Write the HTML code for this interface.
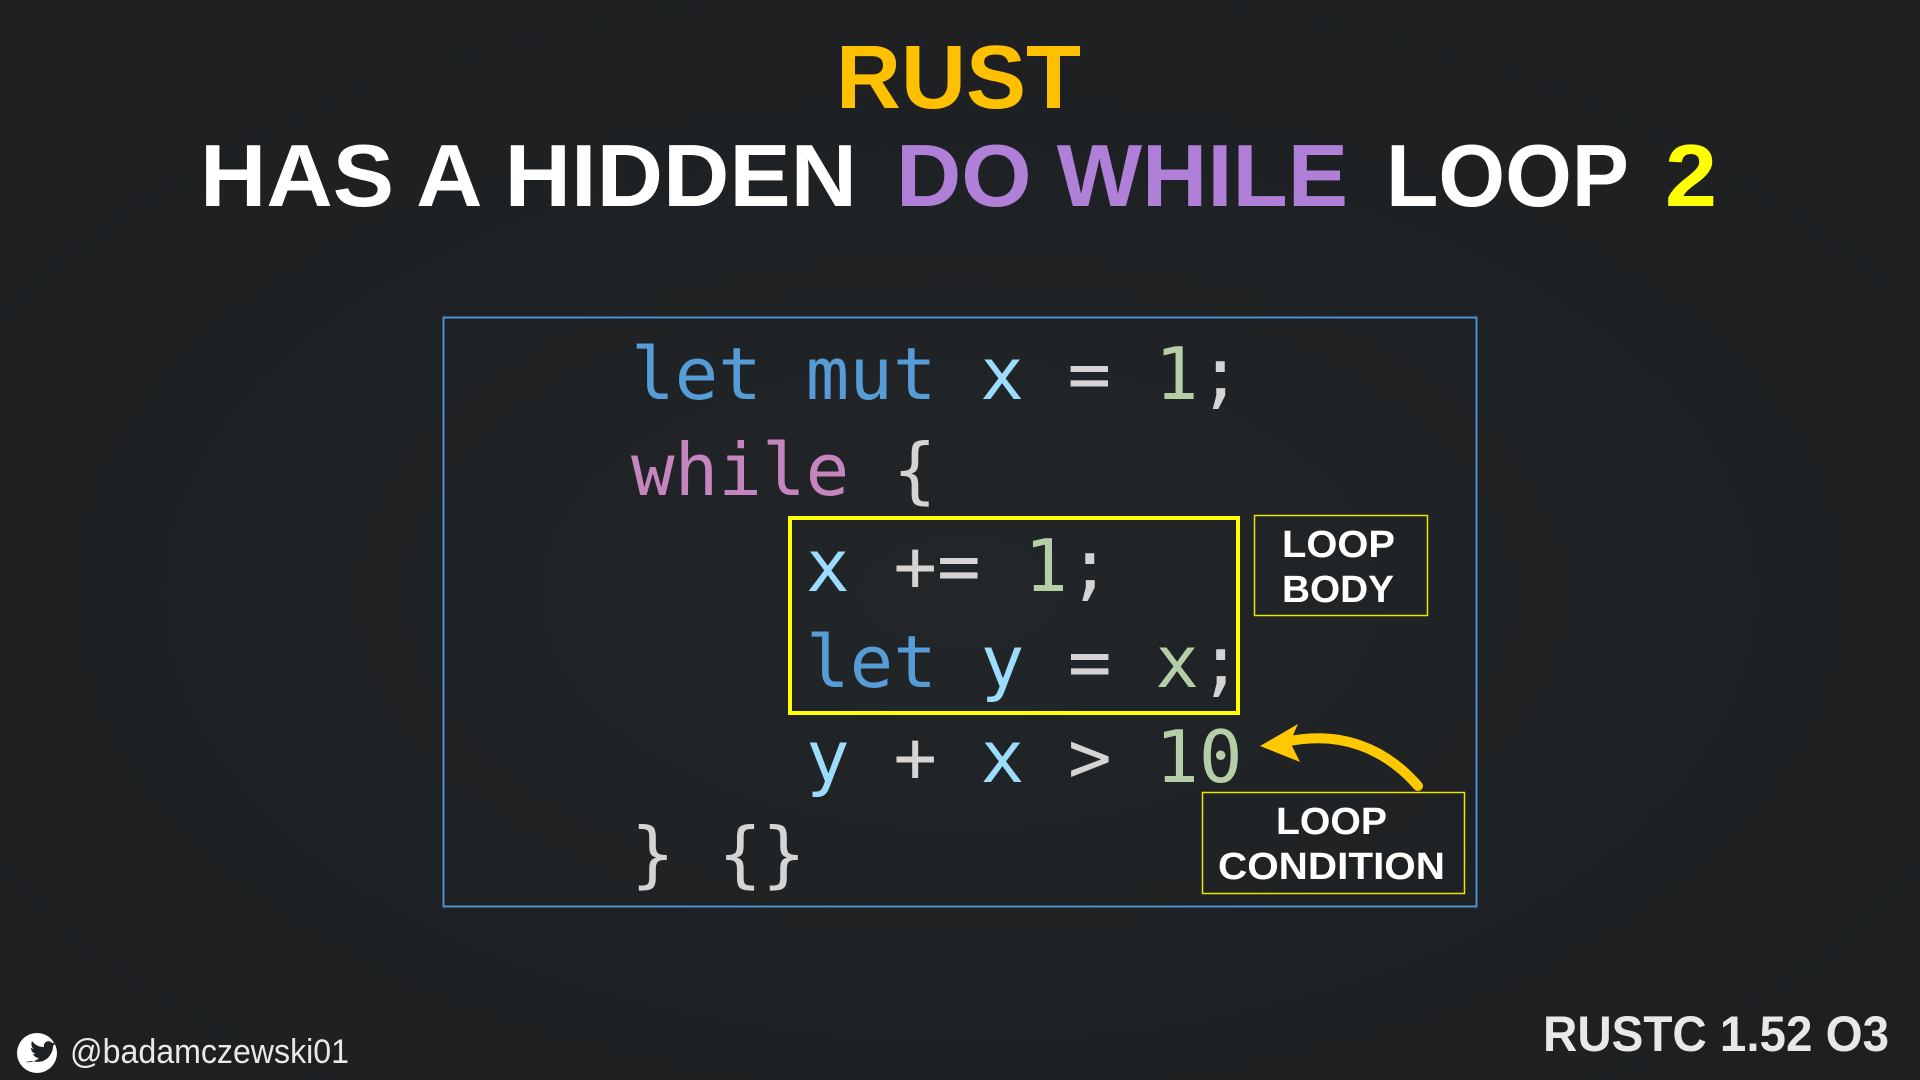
<!DOCTYPE html>
<html><head><meta charset="utf-8"><style>
html,body{margin:0;padding:0;background:#1f2224;}
svg{display:block}
</style></head><body>
<svg width="1920" height="1080" viewBox="0 0 1920 1080" xmlns="http://www.w3.org/2000/svg">
<defs>
<radialGradient id="bg" cx="50%" cy="55%" r="60%">
<stop offset="0" stop-color="#222628"/><stop offset="1" stop-color="#1d1f21"/>
</radialGradient>
</defs>
<rect width="1920" height="1080" fill="url(#bg)"/>
<g font-family="Liberation Sans, sans-serif" font-weight="bold">
<text x="836" y="108" font-size="90" fill="#ffc000" textLength="245" lengthAdjust="spacingAndGlyphs">RUST</text>
<text x="200" y="206" font-size="88" fill="#ffffff" textLength="657" lengthAdjust="spacingAndGlyphs">HAS A HIDDEN</text>
<text x="896" y="206" font-size="88" fill="#b07fd8" textLength="452" lengthAdjust="spacingAndGlyphs">DO WHILE</text>
<text x="1386" y="206" font-size="88" fill="#ffffff" textLength="243" lengthAdjust="spacingAndGlyphs">LOOP</text>
<text x="1665" y="206" font-size="88" fill="#ffff00" textLength="52" lengthAdjust="spacingAndGlyphs">2</text>
</g>
<rect x="443.5" y="317.5" width="1033" height="589" fill="none" stroke="#4a90d0" stroke-width="2"/>
<g font-family="DejaVu Sans Mono, Liberation Mono, monospace" font-size="72.5" xml:space="preserve">
<text x="631" y="399"><tspan fill="#569cd6">let mut</tspan> <tspan fill="#9cdcfe">x</tspan> <tspan fill="#d4d4d4">=</tspan> <tspan fill="#b5cea8">1</tspan><tspan fill="#d4d4d4">;</tspan></text>
<text x="631" y="495"><tspan fill="#c586c0">while</tspan> <tspan fill="#d4d4d4">{</tspan></text>
<text x="806" y="591"><tspan fill="#9cdcfe">x</tspan> <tspan fill="#d4d4d4">+=</tspan> <tspan fill="#b5cea8">1</tspan><tspan fill="#d4d4d4">;</tspan></text>
<text x="806" y="687"><tspan fill="#569cd6">let</tspan> <tspan fill="#9cdcfe">y</tspan> <tspan fill="#d4d4d4">=</tspan> <tspan fill="#b5cea8">x</tspan><tspan fill="#d4d4d4">;</tspan></text>
<text x="806" y="782"><tspan fill="#9cdcfe">y</tspan> <tspan fill="#d4d4d4">+</tspan> <tspan fill="#9cdcfe">x</tspan> <tspan fill="#d4d4d4">&gt;</tspan> <tspan fill="#b5cea8">10</tspan></text>
<text x="631" y="879" fill="#d4d4d4">} {}</text>
</g>
<rect x="790" y="518" width="448" height="195" fill="none" stroke="#ffff00" stroke-width="4"/>
<rect x="1254.5" y="515.5" width="173" height="100" fill="none" stroke="#e6e600" stroke-width="1.5"/>
<rect x="1202.5" y="792.5" width="262" height="101" fill="none" stroke="#e6e600" stroke-width="1.5"/>
<g font-family="Liberation Sans, sans-serif" font-weight="bold" font-size="38" fill="#ffffff">
<text x="1282" y="557" textLength="113" lengthAdjust="spacingAndGlyphs">LOOP</text>
<text x="1282" y="602" textLength="112" lengthAdjust="spacingAndGlyphs">BODY</text>
<text x="1276" y="834" textLength="111" lengthAdjust="spacingAndGlyphs">LOOP</text>
<text x="1218" y="879" textLength="227" lengthAdjust="spacingAndGlyphs">CONDITION</text>
</g>
<path d="M1418 786 C1385 748 1340 730 1285 742" fill="none" stroke="#ffc800" stroke-width="10" stroke-linecap="round"/>
<polygon points="1260,746 1298,724 1290,742 1300,762" fill="#ffc800"/>
<circle cx="37" cy="1053" r="20" fill="#ffffff"/>
<path d="M25 1062 c6 1 11 -1 14 -4 c-3 0 -5 -2 -6 -4 c1 0 2 0 3 0 c-3 -1 -5 -3 -5 -6 c1 0 2 1 3 1 c-3 -2 -3 -5 -2 -8 c3 4 7 6 12 6 c-1 -5 5 -8 8 -4 c1 0 3 -1 4 -2 c0 1 -1 3 -3 3 c1 0 2 0 3 -1 c-1 1 -2 2 -3 3 c0 9 -8 19 -21 15 z" fill="#1f2224"/>
<text x="70" y="1063" font-family="Liberation Sans, sans-serif" font-size="34" fill="#e8e8e8" textLength="279" lengthAdjust="spacingAndGlyphs">@badamczewski01</text>
<text x="1543" y="1051" font-family="Liberation Sans, sans-serif" font-weight="bold" font-size="50" fill="#e8e8e8" textLength="346" lengthAdjust="spacingAndGlyphs">RUSTC 1.52 O3</text>
</svg>
</body></html>
